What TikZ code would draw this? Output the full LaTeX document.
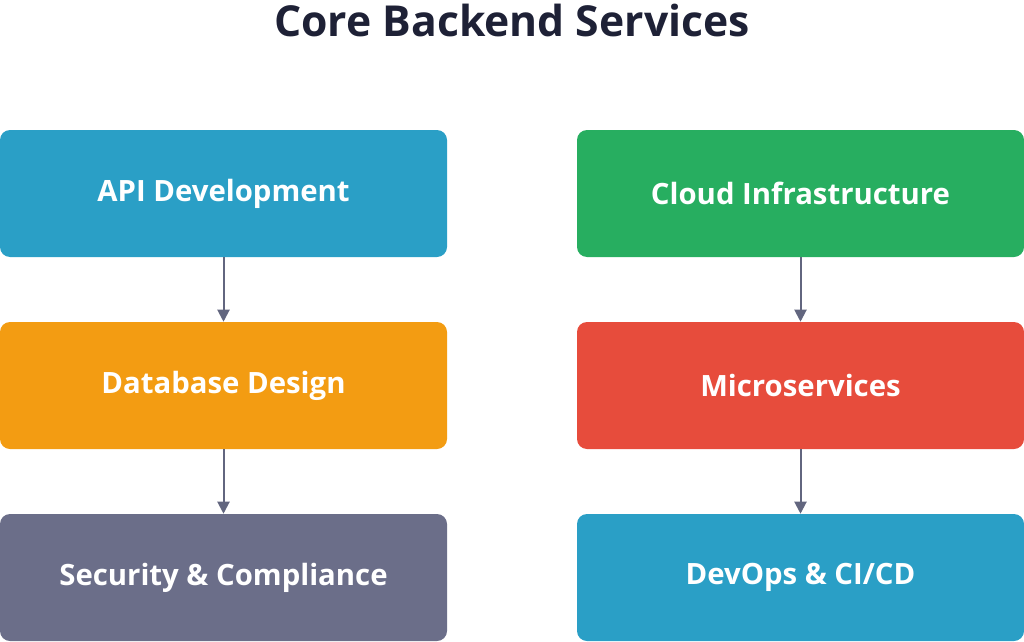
\documentclass[tikz,border=0pt]{standalone}
\usepackage{fontspec}
\setmainfont{Open Sans}
\usepackage{tikz}
\usetikzlibrary{arrows.meta,positioning}
\definecolor{apiblue}{HTML}{2A9FC6}
\definecolor{dborange}{HTML}{F39C12}
\definecolor{secgray}{HTML}{6B6E89}
\definecolor{cloudgreen}{HTML}{27AE60}
\definecolor{microred}{HTML}{E74C3C}
\definecolor{titlenavy}{HTML}{1E2136}
\definecolor{arrowgray}{HTML}{62667F}
\tikzset{
  svc/.style={rounded corners=7.5pt,minimum width=335.25pt,minimum height=95.25pt,
    inner sep=0pt,text=white,font=\fontsize{22}{26}\selectfont\bfseries},
  flow/.style={draw=arrowgray,line width=1.5pt,-{Triangle[length=9pt,width=9pt]}}
}
\begin{document}
\begin{tikzpicture}[x=0.75pt,y=-0.75pt]
\useasboundingbox (0,0) rectangle (1024,642);
\node[text=titlenavy,font=\fontsize{32}{36}\selectfont\bfseries] (title) at (512,21) {Core Backend Services};
% left column
\node[svc,fill=apiblue] (api) at (223.5,193.5) {API Development};
\node[svc,fill=dborange] (db) at (223.5,385.5) {Database Design};
\node[svc,fill=secgray] (sec) at (223.5,577.5) {Security \& Compliance};
% right column
\node[svc,fill=cloudgreen] (cloud) at (800.5,193.5) {Cloud Infrastructure};
\node[svc,fill=microred] (micro) at (800.5,385.5) {Microservices};
\node[svc,fill=apiblue] (devops) at (800.5,577.5) {DevOps \& CI/CD};
\draw[flow] (api) -- (db);
\draw[flow] (db) -- (sec);
\draw[flow] (cloud) -- (micro);
\draw[flow] (micro) -- (devops);
\end{tikzpicture}
\end{document}
